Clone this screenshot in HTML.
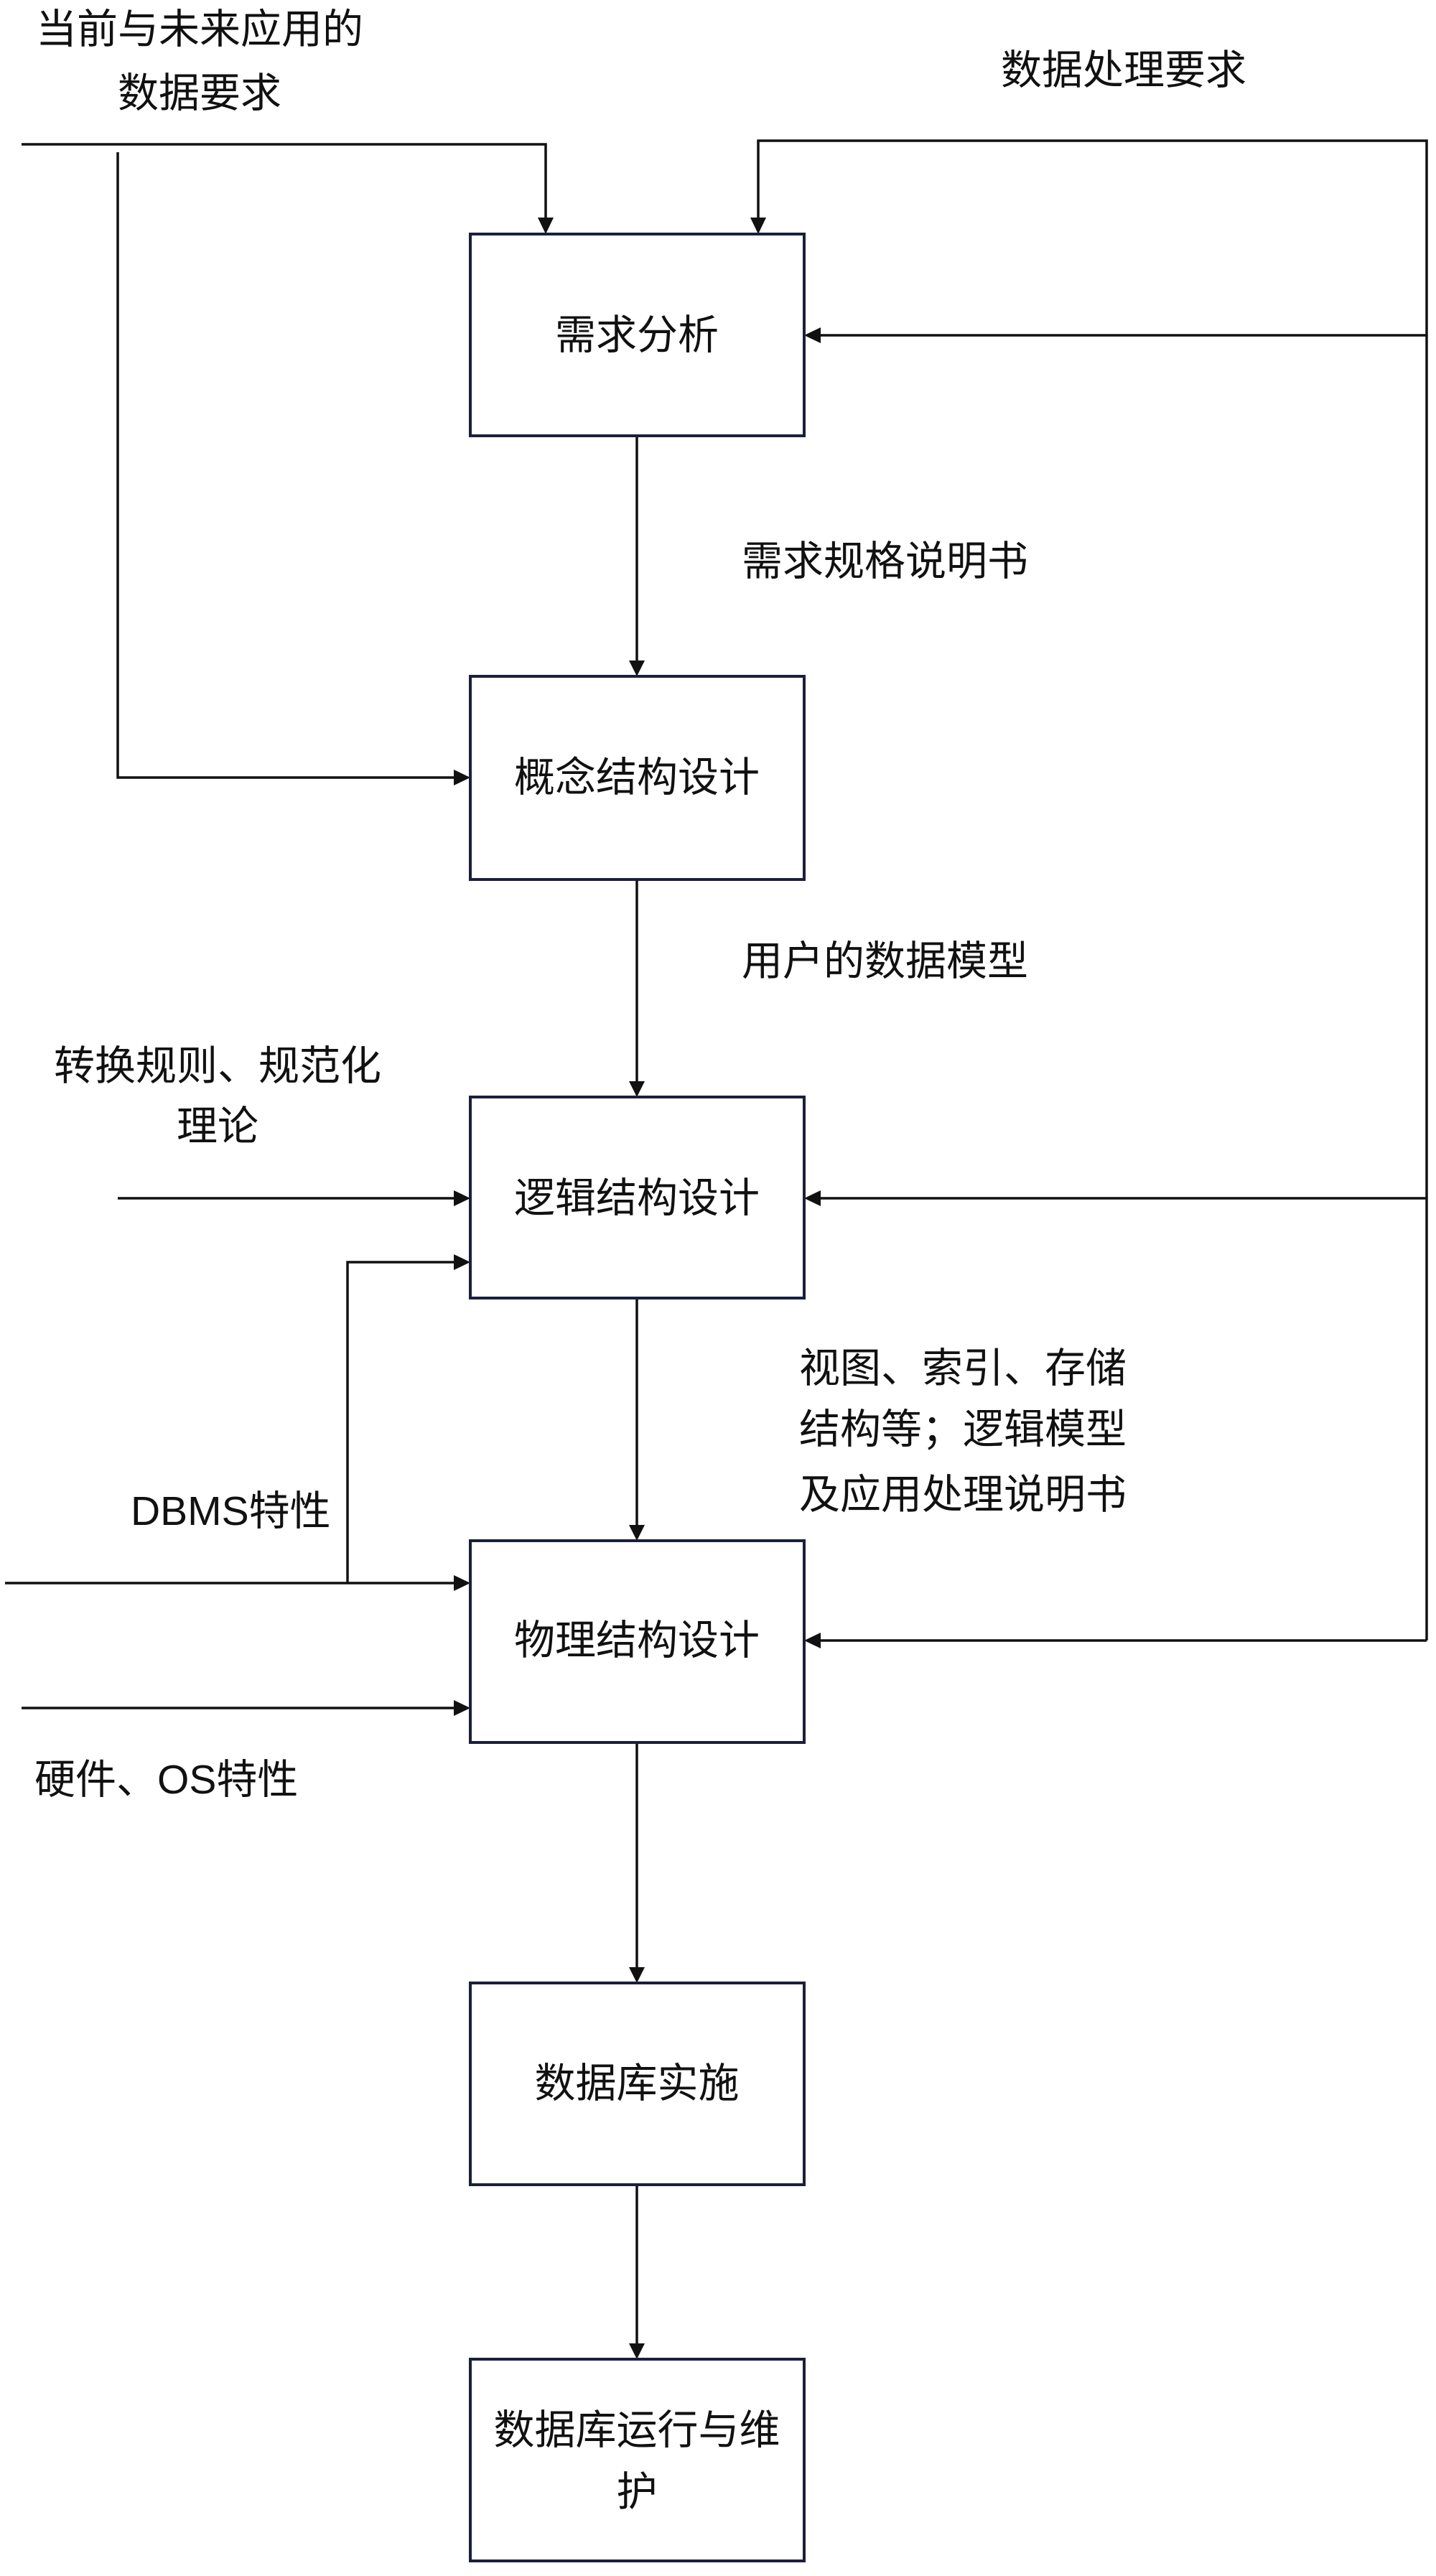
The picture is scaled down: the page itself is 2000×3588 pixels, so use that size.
<!DOCTYPE html>
<html><head><meta charset="utf-8"><style>
html,body{margin:0;padding:0;background:#fff;}
svg text{font-family:"Liberation Sans","Noto Sans CJK SC",sans-serif;font-size:57px;fill:#111;}
</style></head><body>
<svg width="2000" height="3583" viewBox="0 0 2000 3583" xmlns="http://www.w3.org/2000/svg">
<defs>
<marker id="a" markerWidth="10" markerHeight="10" refX="9" refY="5" orient="auto" markerUnits="userSpaceOnUse" viewBox="0 0 10 10">
</marker>
</defs>
<g fill="none" stroke="#111" stroke-width="3.5">
<!-- main vertical connectors -->
<line x1="887" y1="607" x2="887" y2="920"/>
<line x1="887" y1="1225" x2="887" y2="1506"/>
<line x1="887" y1="1808" x2="887" y2="2124"/>
<line x1="887" y1="2427" x2="887" y2="2740"/>
<line x1="887" y1="3043" x2="887" y2="3264"/>
<!-- right feedback -->
<polyline points="1987,2285 1987,196 1056,196 1056,305"/>
<line x1="1987" y1="467" x2="1142" y2="467"/>
<line x1="1987" y1="1669" x2="1142" y2="1669"/>
<line x1="1987" y1="2285" x2="1142" y2="2285"/>
<!-- top left -->
<polyline points="30,201 760,201 760,305"/>
<polyline points="164,212 164,1083 633,1083"/>
<line x1="164" y1="1669" x2="633" y2="1669"/>
<line x1="7" y1="2205" x2="633" y2="2205"/>
<polyline points="484,2205 484,1758 633,1758"/>
<line x1="30" y1="2379" x2="633" y2="2379"/>
</g>
<g fill="#111">
<!-- down arrows -->
<polygon points="876,920 898,920 887,942"/>
<polygon points="876,1506 898,1506 887,1528"/>
<polygon points="876,2124 898,2124 887,2146"/>
<polygon points="876,2740 898,2740 887,2762"/>
<polygon points="876,3264 898,3264 887,3286"/>
<polygon points="749,303 771,303 760,326"/>
<polygon points="1045,303 1067,303 1056,326"/>
<!-- left pointing into right side -->
<polygon points="1143,456 1143,478 1120,467"/>
<polygon points="1143,1658 1143,1680 1120,1669"/>
<polygon points="1143,2274 1143,2296 1120,2285"/>
<!-- right pointing into left side -->
<polygon points="632,1072 632,1094 655,1083"/>
<polygon points="632,1658 632,1680 655,1669"/>
<polygon points="632,1747 632,1769 655,1758"/>
<polygon points="632,2194 632,2216 655,2205"/>
<polygon points="632,2368 632,2390 655,2379"/>
</g>
<g fill="#fff" stroke="#1a1f3d" stroke-width="4">
<rect x="655" y="326" width="465" height="281"/>
<rect x="655" y="942" width="465" height="283"/>
<rect x="655" y="1528" width="465" height="280"/>
<rect x="655" y="2146" width="465" height="281"/>
<rect x="655" y="2762" width="465" height="281"/>
<rect x="655" y="3286" width="465" height="281"/>
</g>
<g text-anchor="middle" dominant-baseline="central">
<text x="887" y="467">需求分析</text>
<text x="887" y="1083">概念结构设计</text>
<text x="887" y="1669">逻辑结构设计</text>
<text x="887" y="2285">物理结构设计</text>
<text x="887" y="2902">数据库实施</text>
<text x="887" y="3385">数据库运行与维</text>
<text x="887" y="3471">护</text>
<text x="278" y="41">当前与未来应用的</text>
<text x="278" y="130">数据要求</text>
<text x="1565" y="98">数据处理要求</text>
<text x="303" y="1485">转换规则、规范化</text>
<text x="303" y="1569">理论</text>
</g>
<g dominant-baseline="central">
<text x="1033" y="782">需求规格说明书</text>
<text x="1033" y="1339">用户的数据模型</text>
<text x="1113" y="1906">视图、索引、存储</text>
<text x="1113" y="1991">结构等；逻辑模型</text>
<text x="1113" y="2082">及应用处理说明书</text>
<text x="182" y="2105">DBMS特性</text>
<text x="48" y="2479">硬件、OS特性</text>
</g>
</svg>
</body></html>
